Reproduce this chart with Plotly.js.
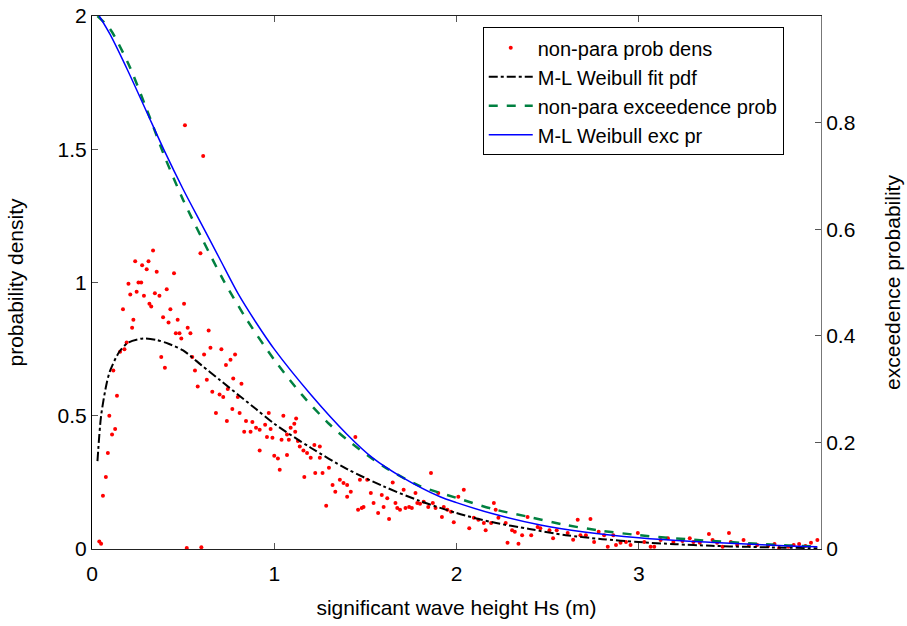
<!DOCTYPE html>
<html>
<head>
<meta charset="utf-8">
<script src="https://cdn.plot.ly/plotly-3.0.1.min.js"></script>
<style>html,body{margin:0;padding:0;background:#fff;}#chart{width:907px;height:626px;}</style>
</head>
<body>
<div id="chart"></div>
<script>
// Non-parametric probability density (red dots)
const densX = [0.04,0.05,0.52,0.60,0.06,0.076,0.087,0.11,0.127,0.095,0.137,0.117,0.154,0.178,0.19,0.22,0.227,0.17,0.21,0.2,0.255,0.27,0.245,0.285,0.315,0.325,0.345,0.37,0.237,0.275,0.30,0.31,0.335,0.355,0.41,0.45,0.43,0.39,0.42,0.47,0.505,0.46,0.48,0.525,0.54,0.49,0.64,0.38,0.40,0.565,0.55,0.615,0.65,0.71,0.735,0.76,0.785,0.775,0.82,0.58,0.63,0.66,0.70,0.72,0.745,0.80,0.61,0.595,0.51,
0.68,0.74,0.77,0.81,0.845,0.88,0.90,0.92,0.95,0.97,0.98,0.835,0.87,0.92,0.96,0.99,1.0,1.02,1.03,1.05,1.04,1.07,1.08,1.09,1.11,1.115,1.12,1.13,1.07,1.14,1.16,1.18,1.20,1.22,1.25,1.25,1.225,1.165,1.265,1.30,1.32,1.335,1.285,1.36,1.38,1.40,1.42,1.40,1.445,1.46,1.48,1.49,1.47,1.51,1.53,1.545,1.57,1.59,1.60,1.62,1.63,1.65,1.665,1.675,1.69,1.71,1.72,1.74,1.755,1.775,1.785,1.80,1.82,1.845,1.86,1.87,1.885,1.90,1.92,1.93,1.95,1.97,1.985,2.01,
2.04,2.07,2.095,2.12,2.15,2.16,2.19,2.205,2.215,2.23,2.27,2.28,2.305,2.32,2.34,2.36,2.39,2.41,2.445,2.46,2.51,2.53,2.55,2.61,2.64,2.665,2.68,2.71,2.735,2.755,2.78,2.81,2.83,2.86,2.875,2.90,2.93,2.955,2.995,3.03,3.065,3.085,3.12,3.16,3.19,3.24,3.28,3.30,3.335,3.385,3.405,3.43,3.46,3.495,3.505,3.54,3.575,3.605,3.65,3.71,3.745,3.77,3.82,3.85,3.88,3.915,3.945,3.98];
const densY = [0.028,0.02,0.004,0.007,0.20,0.27,0.36,0.43,0.45,0.50,0.575,0.67,0.74,0.75,0.775,0.83,0.86,0.90,0.955,0.995,1.0,1.0,0.965,0.95,0.92,0.91,0.96,0.95,1.08,1.065,1.05,1.08,1.12,1.04,0.975,1.035,0.90,0.87,0.85,0.86,0.92,0.81,0.81,0.83,0.81,0.79,0.82,0.72,0.68,0.67,0.72,0.73,0.755,0.75,0.69,0.71,0.73,0.64,0.62,0.61,0.635,0.59,0.58,0.57,0.60,0.57,1.475,1.11,1.59,
0.51,0.48,0.525,0.51,0.48,0.477,0.455,0.447,0.466,0.51,0.45,0.44,0.44,0.37,0.42,0.417,0.35,0.34,0.297,0.50,0.41,0.43,0.41,0.455,0.47,0.44,0.49,0.405,0.353,0.385,0.37,0.36,0.342,0.39,0.385,0.342,0.285,0.27,0.285,0.305,0.24,0.215,0.162,0.26,0.248,0.24,0.215,0.196,0.42,0.147,0.154,0.158,0.26,0.26,0.21,0.173,0.135,0.203,0.158,0.19,0.113,0.25,0.173,0.154,0.147,0.222,0.154,0.158,0.154,0.21,0.173,0.17,0.177,0.158,0.285,0.173,0.154,0.21,0.12,0.158,0.147,0.14,0.10,0.196,
0.222,0.078,0.117,0.11,0.098,0.07,0.098,0.173,0.147,0.117,0.098,0.023,0.07,0.065,0.02,0.052,0.12,0.052,0.083,0.078,0.07,0.04,0.07,0.06,0.035,0.11,0.052,0.052,0.113,0.026,0.065,0.052,0.008,0.052,0.015,0.023,0.026,0.015,0.06,0.026,0.008,0.008,0.034,0.04,0.026,0.03,0.04,0.026,0.023,0.056,0.034,0.023,0.008,0.06,0.026,0.015,0.034,0.015,0.015,0.011,0.019,0.004,0.008,0.015,0.019,0.011,0.023,0.034];

// M-L Weibull fit pdf (black dash-dot)
const pdfX = [0.03,0.05,0.08,0.1,0.15,0.2,0.28,0.35,0.42,0.5,0.6,0.7,0.8,0.9,1.0,1.2,1.4,1.6,1.8,2.0,2.2,2.4,2.6,2.8,3.0,3.2,3.4,3.6,3.8,3.98];
const pdfY = [0.33,0.50,0.62,0.67,0.74,0.775,0.79,0.785,0.77,0.745,0.69,0.635,0.58,0.525,0.47,0.38,0.30,0.235,0.18,0.135,0.10,0.075,0.052,0.037,0.026,0.018,0.012,0.008,0.005,0.003];

// Non-parametric exceedance probability (green dashed)
const npExcX = [0.03,0.1,0.2,0.3,0.4,0.5,0.6,0.72,0.85,1.0,1.15,1.3,1.4,1.6,1.8,2.0,2.2,2.4,2.6,2.8,3.0,3.2,3.4,3.6,3.8,3.98];
const npExcY = [1.0,0.975,0.91,0.825,0.735,0.655,0.585,0.505,0.43,0.355,0.29,0.235,0.205,0.155,0.118,0.096,0.075,0.06,0.045,0.034,0.026,0.02,0.015,0.011,0.007,0.005];

// M-L Weibull exceedance probability (blue solid)
const mlExcX = [0.04,0.1,0.2,0.3,0.4,0.5,0.6,0.7,0.8,0.9,1.0,1.2,1.4,1.54,1.7,1.91,2.0,2.2,2.46,2.7,3.0,3.3,3.56,3.8,3.98];
const mlExcY = [1.0,0.965,0.895,0.82,0.745,0.675,0.61,0.545,0.48,0.425,0.375,0.29,0.215,0.171,0.135,0.098,0.087,0.066,0.045,0.032,0.021,0.014,0.01,0.006,0.004];

const xTicks = [0,1,2,3];
const yTicks = [0,0.5,1,1.5,2];
const y2Ticks = [0,0.2,0.4,0.6,0.8];

const FONT = 'Liberation Sans, Arial, sans-serif';

const traces = [
  {x: densX, y: densY, type: 'scatter', mode: 'markers', name: 'non-para prob dens',
   marker: {color: '#ff0000', size: 4}, yaxis: 'y'},
  {x: pdfX, y: pdfY, type: 'scatter', mode: 'lines', name: 'M-L Weibull fit pdf',
   line: {color: '#000000', width: 2, dash: 'dashdot', shape: 'spline', smoothing: 0.8}, yaxis: 'y'},
  {x: npExcX, y: npExcY, type: 'scatter', mode: 'lines', name: 'non-para exceedence prob',
   line: {color: '#008040', width: 2.5, dash: 'dash', shape: 'spline', smoothing: 0.8}, yaxis: 'y2'},
  {x: mlExcX, y: mlExcY, type: 'scatter', mode: 'lines', name: 'M-L Weibull exc pr',
   line: {color: '#0000ff', width: 1.5, shape: 'spline', smoothing: 0.8}, yaxis: 'y2'}
];

const layout = {
  width: 907, height: 626,
  margin: {l: 92, r: 86, t: 16, b: 77},
  paper_bgcolor: '#ffffff', plot_bgcolor: '#ffffff',
  font: {family: FONT, size: 21, color: '#000'},
  showlegend: true,
  legend: {x: 0.536, y: 0.979, xanchor: 'left', yanchor: 'top',
           bgcolor: '#ffffff', bordercolor: '#000000', borderwidth: 1,
           itemwidth: 44,
           font: {family: FONT, size: 20, color: '#000'}, tracegroupgap: 0},
  xaxis: {range: [0, 4], tickvals: xTicks, ticktext: xTicks.map(String),
          ticks: 'inside', ticklen: 6, tickcolor: '#555', showgrid: false, zeroline: false,
          showline: true, linecolor: '#222', linewidth: 1, mirror: 'ticks',
          ticklabelstandoff: 6,
          title: {text: 'significant wave height Hs (m)', font: {family: FONT, size: 21}, standoff: 16}},
  yaxis: {range: [0, 2], tickvals: yTicks, ticktext: ['0','0.5','1','1.5','2'],
          ticks: 'inside', ticklen: 6, tickcolor: '#555', showgrid: false, zeroline: false,
          showline: true, linecolor: '#000', linewidth: 1,
          title: {text: 'probability density', font: {family: FONT, size: 21}, standoff: 28}},
  yaxis2: {range: [0, 1], tickvals: y2Ticks, ticktext: ['0','0.2','0.4','0.6','0.8'],
           overlaying: 'y', side: 'right',
           ticks: 'inside', ticklen: 6, tickcolor: '#555', showgrid: false, zeroline: false,
           showline: true, linecolor: '#777', linewidth: 1,
           title: {text: 'exceedence probability', font: {family: FONT, size: 21}, standoff: 30}}
};

Plotly.newPlot('chart', traces, layout, {displayModeBar: false, staticPlot: true});
</script>
</body>
</html>
